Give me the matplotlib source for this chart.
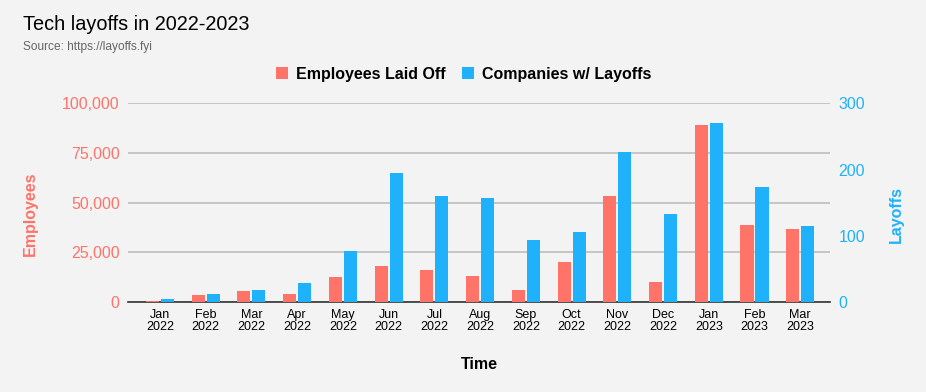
import matplotlib
matplotlib.use("Agg")
import matplotlib.pyplot as plt
import numpy as np

plt.rcParams["font.family"] = ["Liberation Sans", "DejaVu Sans"]

months = ["Jan\n2022", "Feb\n2022", "Mar\n2022", "Apr\n2022", "May\n2022", "Jun\n2022",
          "Jul\n2022", "Aug\n2022", "Sep\n2022", "Oct\n2022", "Nov\n2022", "Dec\n2022",
          "Jan\n2023", "Feb\n2023", "Mar\n2023"]
employees = [510, 3500, 5500, 4000, 12600, 18100, 16100, 13100, 6000, 20100,
             53300, 10100, 89000, 38700, 36700]
companies = [5, 12, 18, 29, 77, 195, 160, 157, 94, 106, 226, 133, 270, 174, 115]

RED = "#ff7369"
BLUE = "#1fb2fb"
BG = "#f3f3f3"

fig = plt.figure(figsize=(9.26, 3.92), dpi=100, facecolor=BG)
ax = fig.add_axes([0.1382, 0.2296, 0.7581, 0.507])
ax.set_facecolor(BG)
ax2 = ax.twinx()

x = np.arange(len(months))
w = 0.285
off = 0.164
b1 = ax.bar(x - off, employees, w, color=RED, zorder=3)
b2 = ax2.bar(x + off, companies, w, color=BLUE, zorder=3)

ax.set_xlim(-0.70, len(months) - 0.35)
ax.set_ylim(0, 100000)
ax2.set_ylim(0, 300)
ticks_emp = [0, 25000, 50000, 75000, 100000]
ax.set_yticks(ticks_emp)
ax.set_yticklabels([f"{v:,}" for v in ticks_emp])
ax2.set_yticks([0, 100, 200, 300])
ax.grid(axis="y", color="#bdbdbd", linewidth=1.2, zorder=0)
ax.set_axisbelow(True)

ax.set_xticks(x)
ax.set_xticklabels(months, fontsize=9, linespacing=1.0)
ax.tick_params(axis="x", length=0, pad=5)
ax.tick_params(axis="y", length=0, colors=RED, labelsize=11.5, pad=6)
ax2.tick_params(axis="y", length=0, colors=BLUE, labelsize=11.5, pad=6)

for a in (ax, ax2):
    for s in ["top", "right", "left"]:
        a.spines[s].set_visible(False)
ax.spines["bottom"].set_color("#333333")
ax.spines["bottom"].set_linewidth(1.2)
ax2.spines["bottom"].set_visible(False)

fig.text(0.0329, 0.454, "Employees", color=RED, fontsize=11.5, fontweight="bold",
         rotation=90, ha="center", va="center")
fig.text(0.968, 0.454, "Layoffs", color=BLUE, fontsize=11.5, fontweight="bold",
         rotation=90, ha="center", va="center")
ax.set_xlabel("Time", fontsize=11.5, fontweight="bold", labelpad=17)

fig.text(0.0248, 0.923, "Tech layoffs in 2022-2023", fontsize=14.3, va="baseline")
fig.text(0.0248, 0.872, "Source: https://layoffs.fyi", fontsize=8.6, color="#666666", va="baseline")

fig.legend([b1, b2], ["Employees Laid Off", "Companies w/ Layoffs"],
           loc="center", bbox_to_anchor=(0.5005, 0.811), ncol=2, frameon=False,
           prop={"weight": "bold", "size": 11.5}, handlelength=0.75, handleheight=0.75,
           handletextpad=0.5, columnspacing=1.0, borderpad=0, borderaxespad=0)

fig.savefig("out.png", dpi=100, facecolor=BG)
